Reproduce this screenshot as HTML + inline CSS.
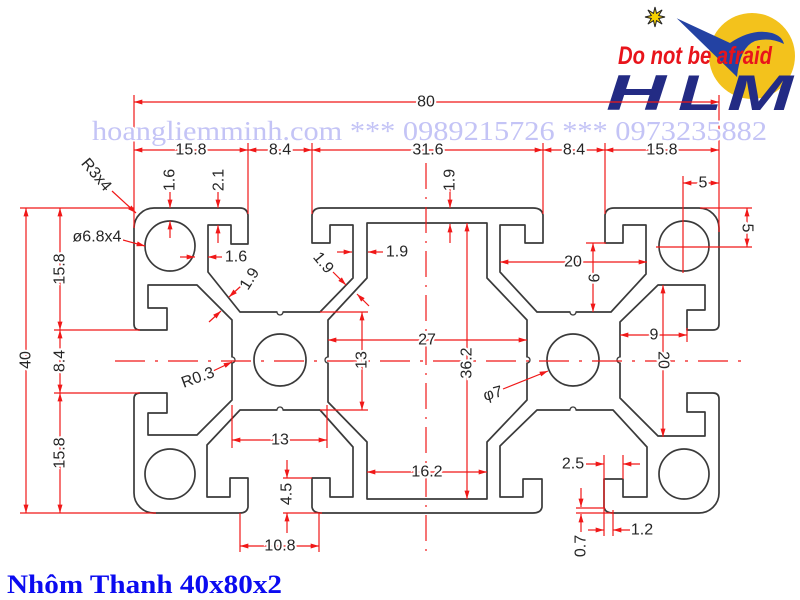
<!DOCTYPE html>
<html><head><meta charset="utf-8">
<style>
html,body{margin:0;padding:0;background:#fff;}
svg{display:block;}
.d{font-family:"Liberation Sans",Arial,sans-serif;font-size:16px;fill:#262626;stroke:#fff;stroke-width:4px;paint-order:stroke;text-anchor:middle;dominant-baseline:central;}
</style></head><body>
<svg width="800" height="600" viewBox="0 0 800 600" xmlns="http://www.w3.org/2000/svg">
<defs>
<marker id="a" viewBox="0 0 10 6" refX="10" refY="3" markerWidth="9" markerHeight="5" markerUnits="userSpaceOnUse" orient="auto-start-reverse"><path d="M0 0L10 3L0 6z" fill="#f01818"/></marker>
</defs>
<rect width="800" height="600" fill="#fff"/>

<!-- Logo -->
<circle cx="752" cy="56" r="43" fill="#f3c21c"/>
<path d="M676.7 18.3 L730 43 Q752 28 772 33 Q782 36 784 44 Q770 37 755 41 Q740 47 737 77 Z" fill="#2342a3"/>
<polygon points="655,7 656.5,13.3 662.1,9.9 658.7,15.5 665,17 658.7,18.5 662.1,24.1 656.5,20.7 655,27 653.5,20.7 647.9,24.1 651.3,18.5 645,17 651.3,15.5 647.9,9.9 653.5,13.3" fill="#f5d000" stroke="#222" stroke-width="1"/>
<text x="618" y="64" font-family="Liberation Sans,Arial,sans-serif" font-weight="bold" font-style="italic" font-size="25" fill="#e8141b" textLength="154" lengthAdjust="spacingAndGlyphs">Do not be afraid</text>
<g font-family="Liberation Sans,Arial,sans-serif" font-weight="bold" font-style="italic" font-size="50" fill="#232b84">
<text x="606" y="110" textLength="60" lengthAdjust="spacingAndGlyphs">H</text>
<text x="678" y="110" textLength="44" lengthAdjust="spacingAndGlyphs">L</text>
<text x="727" y="110" textLength="66" lengthAdjust="spacingAndGlyphs">M</text>
</g>

<!-- Profile -->
<g stroke="#3a3a3a" stroke-width="1.7" fill="none" stroke-linejoin="round">
<path d="M134 228 A20 20 0 0 1 154 208 H240 Q247 208 248 215 V244 H231 V225 H208 V272 L240 312 H320 L353 278 V225 H330 V243 H312 V215 Q313 208 321 208 H533 Q542 208 543 215 V243 H525 V225 H500 V272 L537 312 H611 L646 274 V225 H623 V243 H605 V215 Q606 208 614 208 H699 A20 20 0 0 1 719 228 V324 Q719 330 713 330 H687 V310 H705 V285 H658 L620 322 V398 L658 436 H705 V412 H687 V393 H713 Q719 393 719 399 V493 A20 20 0 0 1 699 513 H613 Q605 513 604 507 V479 H623 V497 H647 V447 L613 410 H537 L500 446 V497 H523 V479 H542 V507 Q541 513 533 513 H321 Q313 513 312 507 V478 H330 V497 H353 V447 L320 410 H240 L207 445 V497 H230 V478 H248 V507 Q247 513 240 513 H154 A20 20 0 0 1 134 493 V399 Q134 393 140 393 H167 V413 H148 V435 H197 L232 400 V320 L197 285 H148 V308 H167 V330 H140 Q134 330 134 324 Z"/>
<path d="M367 223 H487 V278 L527 320 V400 L487 442 V499 H367 V442 L328 402 V320 L367 278 Z"/>
<circle cx="170" cy="246" r="25"/>
<circle cx="170" cy="474" r="25"/>
<circle cx="684" cy="246" r="25"/>
<circle cx="684" cy="474" r="25"/>
<circle cx="280" cy="360" r="26"/>
<circle cx="573" cy="360" r="26"/>
<!-- notches: erase short segment then draw arc -->
<g stroke="#fff" stroke-width="2.4">
<path d="M232 357.5 V362.5 M328 357.5 V362.5 M277.5 312 H282.5 M277.5 410 H282.5 M527 357.5 V362.5 M620 357.5 V362.5 M570.5 312 H575.5 M570.5 410 H575.5"/>
</g>
<g stroke-width="1.3">
<path d="M232 357 A3 3 0 0 1 232 363"/>
<path d="M328 363 A3 3 0 0 1 328 357"/>
<path d="M283 312 A3 3 0 0 1 277 312"/>
<path d="M277 410 A3 3 0 0 1 283 410"/>
<path d="M527 357 A3 3 0 0 1 527 363"/>
<path d="M620 363 A3 3 0 0 1 620 357"/>
<path d="M576 312 A3 3 0 0 1 570 312"/>
<path d="M570 410 A3 3 0 0 1 576 410"/>
</g>
</g>

<!-- Red dimension geometry -->
<g stroke="#f01818" stroke-width="1.2" fill="none">
<path d="M134 95 V228 M719 95 V232 M248 143 V214 M312 143 V214 M543 143 V214 M605 143 V214"/>
<path d="M20 208 H134 M54 330 H140 M54 393 H140 M20 513 H156"/>
<path d="M320 312 H368 M320 410 H368 M232 405 V448 M327 405 V448"/>
<path d="M283 478 H312 M283 513 H322 M240 513 V552 M319 513 V552"/>
<path d="M604 455 V536 M623 455 V479 M576 508 H605 M576 513 H613 M613 510 V536"/>
<path d="M586 243 H606 M687 328 V342"/>
<path d="M683 176 V273 M656 247 H752 M700 208 H752"/>
<path d="M426 163 V558" stroke-dasharray="26 8 2 8"/>
<path d="M115 361 H742" stroke-dasharray="30 10 3 10"/>
<g marker-start="url(#a)" marker-end="url(#a)">
<line x1="134" y1="102" x2="719" y2="102"/>
<line x1="134" y1="150" x2="248" y2="150"/>
<line x1="248" y1="150" x2="312" y2="150"/>
<line x1="312" y1="150" x2="543" y2="150"/>
<line x1="543" y1="150" x2="605" y2="150"/>
<line x1="605" y1="150" x2="719" y2="150"/>
<line x1="26" y1="208" x2="26" y2="513"/>
<line x1="60" y1="208" x2="60" y2="330"/>
<line x1="60" y1="330" x2="60" y2="393"/>
<line x1="60" y1="393" x2="60" y2="513"/>
<line x1="328" y1="340" x2="527" y2="340"/>
<line x1="467" y1="223" x2="467" y2="499"/>
<line x1="362" y1="312" x2="362" y2="410"/>
<line x1="232" y1="440" x2="327" y2="440"/>
<line x1="367" y1="472" x2="487" y2="472"/>
<line x1="240" y1="546" x2="319" y2="546"/>
<line x1="500" y1="262" x2="647" y2="262"/>
<line x1="593" y1="243" x2="593" y2="312"/>
<line x1="620" y1="335" x2="687" y2="335"/>
<line x1="663" y1="285" x2="663" y2="437"/>
<line x1="683" y1="183" x2="719" y2="183"/>
<line x1="747" y1="208" x2="747" y2="247"/>
</g>
<g marker-end="url(#a)">
<line x1="170" y1="192" x2="170" y2="208"/>
<line x1="170" y1="238" x2="170" y2="221"/>
<line x1="218" y1="192" x2="218" y2="208"/>
<line x1="218" y1="243" x2="218" y2="225"/>
<line x1="180" y1="257" x2="195" y2="257"/>
<line x1="222" y1="257" x2="208" y2="257"/>
<line x1="241" y1="286" x2="229" y2="297"/>
<line x1="209" y1="322" x2="221" y2="311"/>
<line x1="333" y1="272" x2="346" y2="285"/>
<line x1="369" y1="306" x2="357" y2="294"/>
<line x1="337" y1="252" x2="352" y2="252"/>
<line x1="383" y1="252" x2="368" y2="252"/>
<line x1="450" y1="188" x2="450" y2="208"/>
<line x1="450" y1="243" x2="450" y2="224"/>
<line x1="287" y1="460" x2="287" y2="478"/>
<line x1="287" y1="533" x2="287" y2="513"/>
<line x1="586" y1="464" x2="604" y2="464"/>
<line x1="640" y1="464" x2="623" y2="464"/>
<line x1="581" y1="488" x2="581" y2="507"/>
<line x1="581" y1="532" x2="581" y2="514"/>
<line x1="588" y1="530" x2="604" y2="530"/>
<line x1="630" y1="530" x2="613" y2="530"/>
<line x1="112" y1="191" x2="136" y2="213"/>
<line x1="123" y1="240" x2="145" y2="246"/>
<line x1="503" y1="389" x2="548" y2="371"/>
<line x1="213" y1="371" x2="232" y2="362"/>
</g>
</g>

<!-- Dimension texts -->
<text class="d" x="426" y="102">80</text>
<text class="d" x="191" y="150">15.8</text>
<text class="d" x="280" y="150">8.4</text>
<text class="d" x="428" y="150">31.6</text>
<text class="d" x="574" y="150">8.4</text>
<text class="d" x="662" y="150">15.8</text>
<text class="d" transform="translate(26,360) rotate(-90)">40</text>
<text class="d" transform="translate(60,269) rotate(-90)">15.8</text>
<text class="d" transform="translate(60,361) rotate(-90)">8.4</text>
<text class="d" transform="translate(60,453) rotate(-90)">15.8</text>
<text class="d" transform="translate(170,180) rotate(-90)">1.6</text>
<text class="d" transform="translate(219,180) rotate(-90)">2.1</text>
<text class="d" transform="translate(450,180) rotate(-90)">1.9</text>
<text class="d" transform="translate(96,175) rotate(50)">R3x4</text>
<text class="d" x="97" y="237">ø6.8x4</text>
<text class="d" x="236" y="257">1.6</text>
<text class="d" transform="translate(250,279) rotate(-58)">1.9</text>
<text class="d" transform="translate(323,263) rotate(50)">1.9</text>
<text class="d" x="397" y="252">1.9</text>
<text class="d" x="427" y="340">27</text>
<text class="d" transform="translate(467,363) rotate(-90)">36.2</text>
<text class="d" transform="translate(362,360) rotate(-90)">13</text>
<text class="d" transform="translate(198,378) rotate(-20)">R0.3</text>
<text class="d" x="280" y="440">13</text>
<text class="d" x="427" y="472">16.2</text>
<text class="d" transform="translate(287,494) rotate(-90)">4.5</text>
<text class="d" x="280" y="546">10.8</text>
<text class="d" x="573" y="262">20</text>
<text class="d" transform="translate(593,278) rotate(90)">9</text>
<text class="d" x="654" y="335">9</text>
<text class="d" transform="translate(663,360) rotate(90)">20</text>
<text class="d" transform="translate(493,394) rotate(-15)">φ7</text>
<text class="d" x="703" y="183">5</text>
<text class="d" transform="translate(747,228) rotate(90)">5</text>
<text class="d" x="573" y="464">2.5</text>
<text class="d" transform="translate(581,546) rotate(-90)">0.7</text>
<text class="d" x="642" y="530">1.2</text>

<!-- Watermark -->
<text x="92" y="140" font-family="Liberation Serif,serif" font-size="27" fill="#c4c4f6" stroke="#fff" stroke-width="3" paint-order="stroke" textLength="675" lengthAdjust="spacingAndGlyphs">hoangliemminh.com *** 0989215726 *** 0973235882</text>

<!-- Title -->
<text x="7" y="593" font-family="Liberation Serif,serif" font-weight="bold" font-size="26" fill="#0b0bf0" textLength="275" lengthAdjust="spacingAndGlyphs">Nhôm Thanh 40x80x2</text>
</svg>
</body></html>
